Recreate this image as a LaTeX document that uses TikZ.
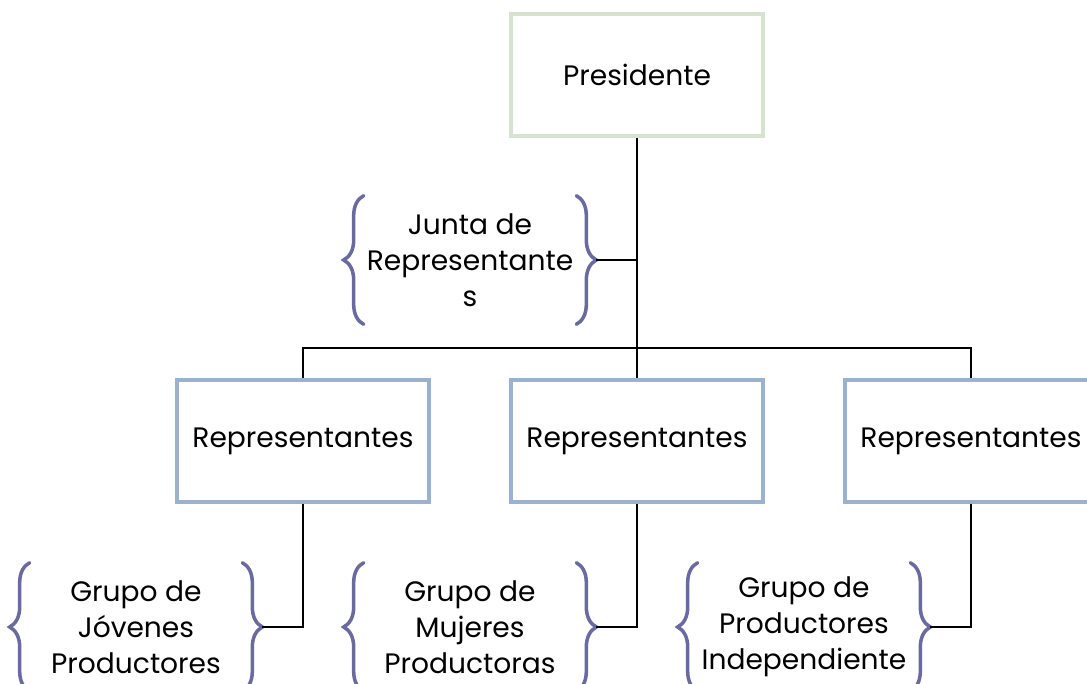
\documentclass[tikz,border=0pt]{standalone}
\usepackage{fontspec}
\setmainfont{Poppins}
\usetikzlibrary{decorations.pathreplacing}

\definecolor{presgreen}{RGB}{214,227,207}
\definecolor{repblue}{RGB}{155,178,207}
\definecolor{bracepurple}{RGB}{106,106,160}

\tikzset{
    orgtext/.style={align=center, font=\fontsize{16}{20.6}\selectfont},
    orgbox/.style={orgtext, draw, line width=2.1pt, minimum width=5.04cm, minimum height=2.44cm},
    presbox/.style={orgbox, draw=presgreen},
    repbox/.style={orgbox, draw=repblue},
    grouptext/.style={orgtext, inner sep=0pt, minimum width=4.24cm, minimum height=2.56cm},
    curly/.style={draw=bracepurple, line width=2pt, line cap=round, decorate,
        decoration={brace, amplitude=0.4cm}},
    link/.style={draw, line width=1.1pt}
}

\begin{document}
\begin{tikzpicture}[x=0.02cm, y=-0.02cm]
    \useasboundingbox (0,0) rectangle (1087,683);

    % cajas
    \node[presbox] (pres) at (637,75) {Presidente};
    \node[repbox] (rep1) at (303,441) {Representantes};
    \node[repbox] (rep2) at (637,441) {Representantes};
    \node[repbox] (rep3) at (971,441) {Representantes};

    % textos entre llaves
    \node[grouptext] (junta) at (470,260) {Junta de\\Representante\\s};
    \node[grouptext] (jovenes) at (136,627) {Grupo de\\Jóvenes\\Productores};
    \node[grouptext] (mujeres) at (470,627) {Grupo de\\Mujeres\\Productoras};
    \node[grouptext] (indep) at (804,627) {Grupo de\\Productores\\Independiente};

    \foreach \g in {junta, jovenes, mujeres, indep} {
        \draw[curly] (\g.south west) -- (\g.north west);
        \draw[curly] (\g.north east) -- (\g.south east);
        \coordinate (\g-tip) at ([xshift=0.4cm]\g.east);
    }

    % conectores
    \coordinate (bar) at (637,348);
    \draw[link] (pres.south) -- (bar);
    \draw[link] (rep1.north) |- (bar) -| (rep3.north);
    \draw[link] (bar) -- (rep2.north);
    \draw[link] (junta-tip) -- (junta-tip -| pres.south);

    \draw[link] (rep1.south) |- (jovenes-tip);
    \draw[link] (rep2.south) |- (mujeres-tip);
    \draw[link] (rep3.south) |- (indep-tip);
\end{tikzpicture}
\end{document}
